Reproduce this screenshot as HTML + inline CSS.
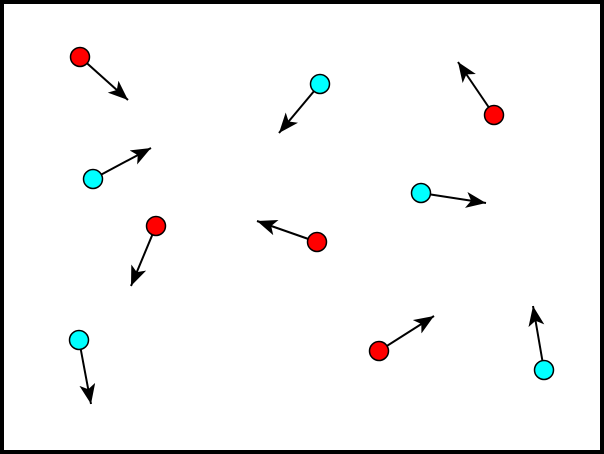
<!DOCTYPE html>
<html><head><style>html,body{margin:0;padding:0;background:#fff}svg{display:block}</style></head>
<body>
<svg width="604" height="454" viewBox="0 0 604 454" xmlns="http://www.w3.org/2000/svg">
<defs>
<marker id="a" markerUnits="userSpaceOnUse" markerWidth="24" markerHeight="20" refX="20" refY="8" orient="auto">
<path d="M20,8 L0,0 L5,8 L0,16 Z" fill="#000"/>
</marker>
</defs>
<rect x="2" y="2" width="600" height="450" fill="#fff" stroke="#000" stroke-width="4"/>
<g stroke="#000" stroke-width="2" marker-end="url(#a)">
<line x1="80" y1="57" x2="128" y2="100"/>
<line x1="320" y1="84" x2="279" y2="133"/>
<line x1="494" y1="115" x2="458" y2="62"/>
<line x1="93" y1="179" x2="151" y2="148"/>
<line x1="421" y1="193" x2="486" y2="203"/>
<line x1="156" y1="226" x2="131" y2="286"/>
<line x1="317" y1="242" x2="257" y2="221"/>
<line x1="79" y1="340" x2="91" y2="404"/>
<line x1="379" y1="351" x2="434" y2="316"/>
<line x1="544" y1="370" x2="533" y2="306"/>
</g>
<g stroke="#000" stroke-width="1.5">
<circle cx="80" cy="57" r="9.5" fill="#f00"/>
<circle cx="320" cy="84" r="9.5" fill="#0ff"/>
<circle cx="494" cy="115" r="9.5" fill="#f00"/>
<circle cx="93" cy="179" r="9.5" fill="#0ff"/>
<circle cx="421" cy="193" r="9.5" fill="#0ff"/>
<circle cx="156" cy="226" r="9.5" fill="#f00"/>
<circle cx="317" cy="242" r="9.5" fill="#f00"/>
<circle cx="79" cy="340" r="9.5" fill="#0ff"/>
<circle cx="379" cy="351" r="9.5" fill="#f00"/>
<circle cx="544" cy="370" r="9.5" fill="#0ff"/>
</g>
</svg>
</body></html>
